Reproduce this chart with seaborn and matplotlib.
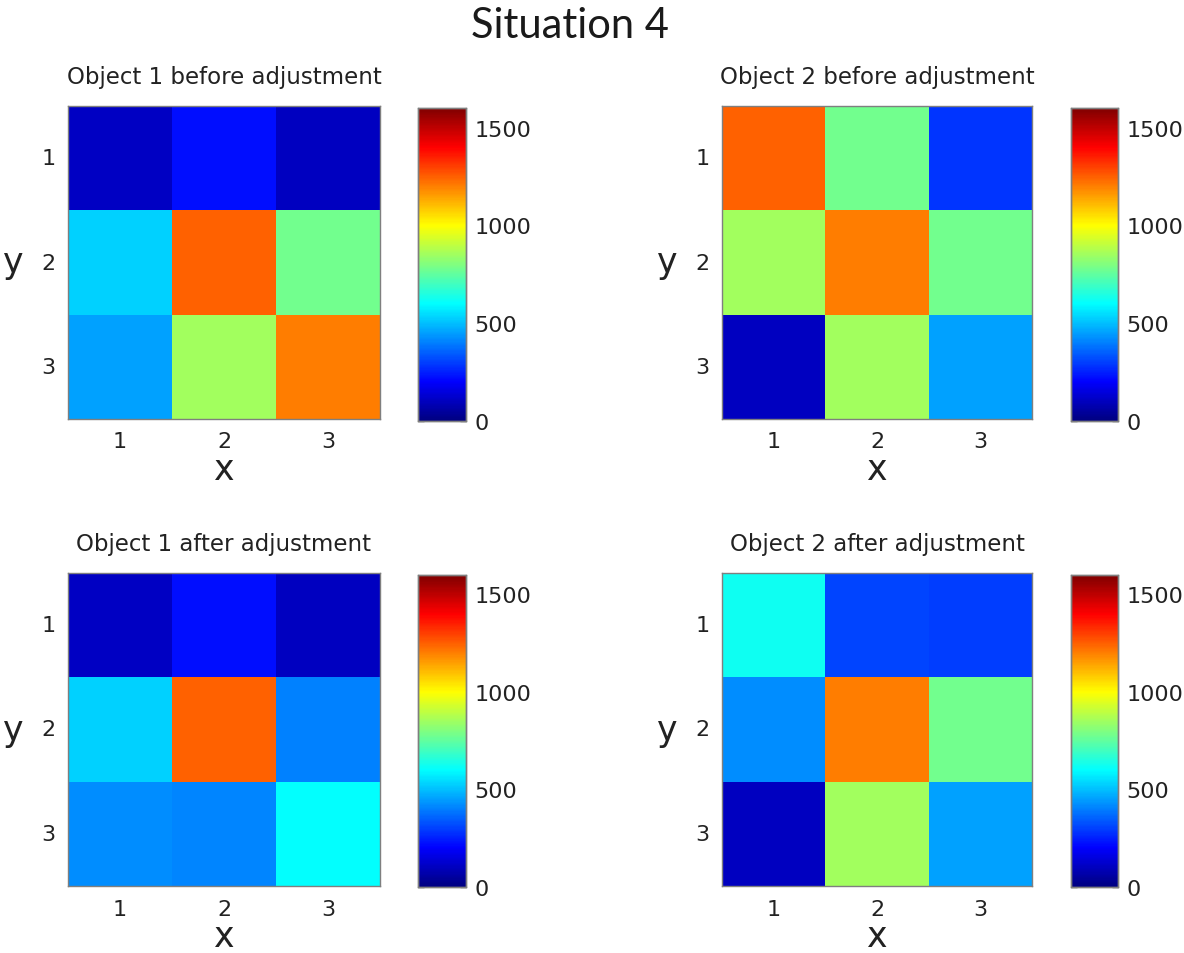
import numpy as np
import pandas as pd
import matplotlib
matplotlib.use("Agg")
import matplotlib.pyplot as plt
from matplotlib.colors import LinearSegmentedColormap
import seaborn as sns

# ---- data -------------------------------------------------------------
x_labels = ["1", "2", "3"]
y_labels = ["1", "2", "3"]

obj1_before = [[110, 224, 100],
               [528, 1248, 776],
               [452, 852, 1200]]
obj2_before = [[1248, 776, 285],
               [852, 1200, 776],
               [100, 852, 452]]
obj1_after = [[110, 224, 100],
              [528, 1248, 400],
              [424, 410, 600]]
obj2_after = [[624, 310, 295],
              [424, 1200, 776],
              [100, 852, 452]]

panel_titles = ["Object 1 before adjustment", "Object 2 before adjustment",
                "Object 1 after adjustment", "Object 2 after adjustment"]
panel_data = [obj1_before, obj2_before, obj1_after, obj2_after]
cbar_ticks = [0, 500, 1000, 1500]
vmin, vmax = 0, 1600

# ---- style ------------------------------------------------------------
sns.set_theme(style="white")
plt.rcParams["font.family"] = ["DejaVu Sans"]
text_col = "#222222"

# classic MATLAB-style jet
jet = LinearSegmentedColormap.from_list(
    "jet_m",
    [(0.0, (0, 0, 0.5)), (0.125, (0, 0, 1)), (0.375, (0, 1, 1)),
     (0.625, (1, 1, 0)), (0.875, (1, 0, 0)), (1.0, (0.5, 0, 0))],
    N=256)

W, H = 1184, 954
fig = plt.figure(figsize=(W / 100, H / 100), dpi=100)
fig.patch.set_facecolor("white")


def frac(x0, y0, x1, y1):
    return [x0 / W, 1 - y1 / H, (x1 - x0) / W, (y1 - y0) / H]


heat_boxes = [(68, 107, 380, 420), (722, 107, 1032, 420),
              (68, 574, 380, 887), (722, 574, 1032, 887)]
cbar_boxes = [(418, 109, 466, 422), (1071, 109, 1118, 422),
              (418, 576, 466, 888), (1071, 576, 1118, 888)]

for data, title, hb, cb in zip(panel_data, panel_titles, heat_boxes, cbar_boxes):
    ax = fig.add_axes(frac(*hb))
    cax = fig.add_axes(frac(*cb))
    df = pd.DataFrame(data, index=y_labels, columns=x_labels)
    sns.heatmap(df, ax=ax, cmap=jet, vmin=vmin, vmax=vmax, cbar_ax=cax,
                linewidths=0, square=False,
                cbar_kws={"ticks": cbar_ticks})

    for s in ax.spines.values():
        s.set_visible(True)
        s.set_color("#7f7f7f")
        s.set_linewidth(1.0)
    ax.tick_params(axis="both", direction="in", length=4, width=1,
                   color="#333333", labelsize=16, labelcolor=text_col,
                   top=True, right=True, bottom=True, left=True)
    ax.tick_params(axis="x", pad=9)
    ax.tick_params(axis="y", pad=9)
    plt.setp(ax.get_yticklabels(), rotation=0)
    plt.setp(ax.get_xticklabels(), rotation=0)

    ax.set_xlabel("x", fontsize=25, color=text_col, va="center")
    ax.set_ylabel("y", fontsize=25, color=text_col, rotation=0,
                  va="center", ha="center")
    ax.xaxis.set_label_coords(0.5, -0.16)
    ax.yaxis.set_label_coords(-0.175, 0.5)

    ax.text(0.5, 1.093, title, transform=ax.transAxes, ha="center",
            va="center", fontsize=16.5, color=text_col)

    cax.tick_params(direction="in", length=4, width=1, color="#333333",
                    labelsize=16, labelcolor=text_col, pad=6,
                    left=True, right=True)
    for s in cax.spines.values():
        s.set_visible(True)
        s.set_color("#7f7f7f")
        s.set_linewidth(1.0)

fig.text(570 / W, 1 - 26 / H, "Situation 4", ha="center", va="center",
         fontsize=30, color="#1a1a1a", family=["Lato", "DejaVu Sans"])

fig.savefig("out.png", dpi=100, facecolor="white")
